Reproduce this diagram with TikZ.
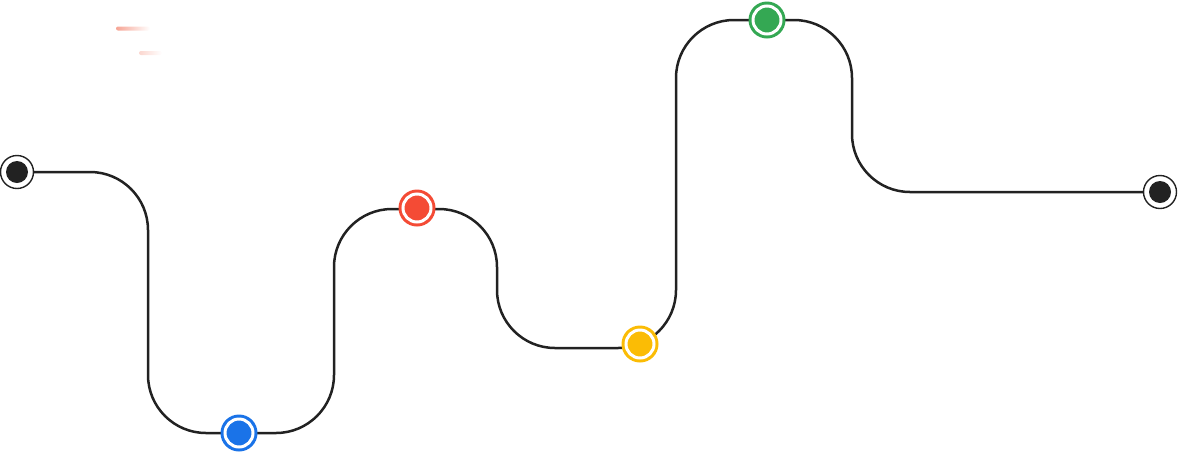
\documentclass[tikz,border=0pt]{standalone}
\usetikzlibrary{backgrounds}
\definecolor{ink}{HTML}{222222}
\definecolor{gblue}{HTML}{1A73E8}
\definecolor{gred}{HTML}{F44B35}
\definecolor{gyellow}{HTML}{FBBC05}
\definecolor{ggreen}{HTML}{34A853}
\definecolor{streak}{HTML}{F6A494}
\tikzset{
  endpt/.style={circle, inner sep=0pt, minimum size=33pt, fill=white, draw=ink, line width=1.4pt,
    path picture={\fill[ink] (path picture bounding box.center) circle (11pt);}},
  milestone/.style={circle, inner sep=0pt, minimum size=37pt, fill=#1,
    path picture={\draw[white, line width=3pt] (path picture bounding box.center) circle (14pt);}},
  road/.style={draw=ink, line width=2.5pt, rounded corners=58pt}
}
\begin{document}
\begin{tikzpicture}[x=1pt, y=-1pt]
\useasboundingbox (0,0) rectangle (1178,456);
% faint streaks
\shade[left color=streak, right color=white, rounded corners=2pt] (116,26.5) rectangle (150,30.5);
\shade[left color=streak!45, right color=white, rounded corners=2pt] (139,51) rectangle (162,55);
% nodes
\node[endpt] (start) at (17,172) {};
\node[milestone=gblue] (blue) at (239,433) {};
\node[milestone=gred] (red) at (417,208) {};
\node[milestone=gyellow] (yellow) at (640,344) {};
\node[milestone=ggreen] (green) at (767,20) {};
\node[endpt] (finish) at (1160,192) {};
\begin{scope}[on background layer]
\draw[road] (start.center) -- (148,172) -- (148,433) -- (334,433) -- (334,209)
  -- (497,209) -- (497,348) -- (676,348) -- (676,20) -- (852,20) -- (852,192) -- (finish.center);
\end{scope}
\end{tikzpicture}
\end{document}
